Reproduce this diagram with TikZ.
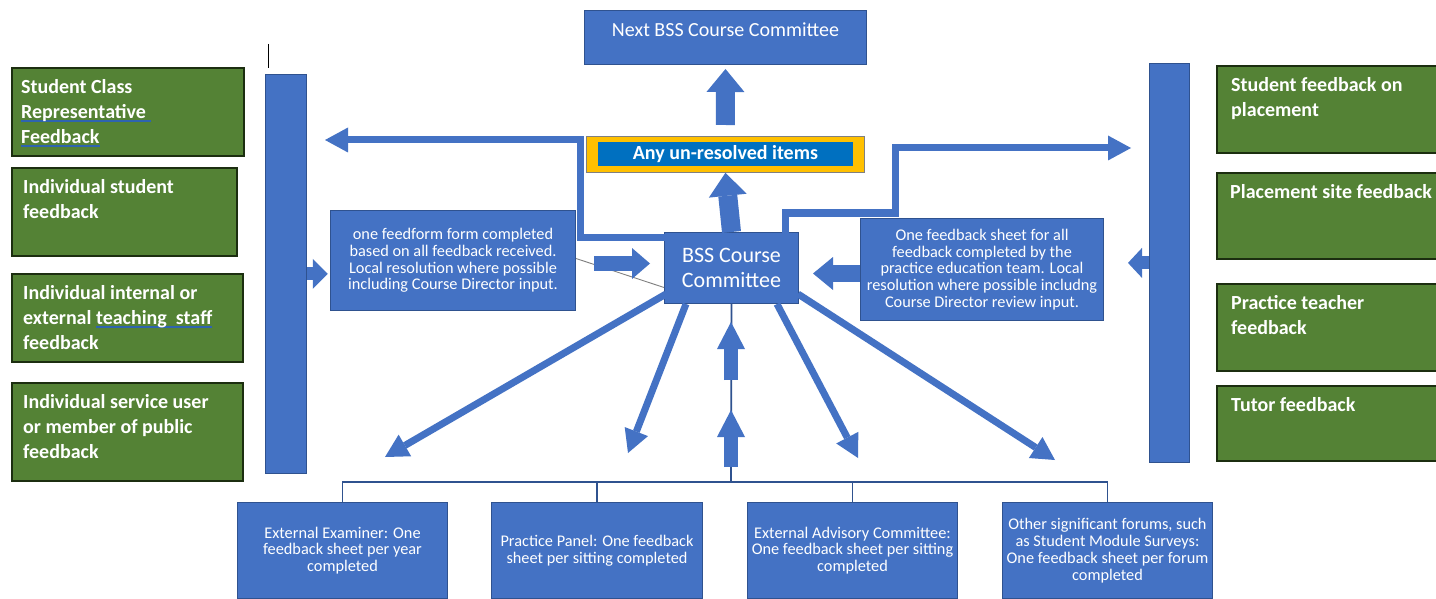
\documentclass[tikz,border=0pt]{standalone}
\usepackage{fontspec}
\setmainfont{Carlito}
\usetikzlibrary{positioning,arrows.meta}
\definecolor{boxBlue}{HTML}{4472C4}
\definecolor{boxBlueDark}{HTML}{2F528F}
\definecolor{boxGreen}{HTML}{548235}
\definecolor{boxGreenDark}{HTML}{1C2E10}
\definecolor{spellBlue}{HTML}{2E64B0}
\definecolor{unresolvedOrange}{HTML}{FFC000}
\definecolor{unresolvedBlue}{HTML}{0070C0}
\tikzstyle{plan} = [x = 1pt, y = -1pt]
\tikzstyle{greenBoxStyle} = [draw=boxGreenDark, fill=boxGreen, line width=1.6pt, anchor=north west, inner sep=0pt]
\tikzstyle{greenText} = [anchor=north west, inner sep=0pt, align=left, text=white, font=\fontsize{20}{25}\selectfont\bfseries]
\tikzstyle{blueBoxStyle} = [draw=boxBlueDark, fill=boxBlue, line width=1pt, text=white, align=center, inner sep=0pt, anchor=north west, font=\fontsize{16.3}{16.8}\selectfont]
\tikzstyle{barStyle} = [draw=boxBlueDark, fill=boxBlue, line width=.8pt, anchor=north west, inner sep=0pt]
\tikzstyle{lineArrow} = [draw=boxBlue, line width=7pt, -{Triangle[length=23pt, width=25pt, line width=0pt]}]
\tikzstyle{treeLine} = [draw=boxBlueDark, line width=1.6pt]
\newcommand{\blockArrow}[5]{\draw [boxBlue, line width=#3pt, -{Triangle[length=#4pt, width=#5pt, line width=0pt]}] #1 -- #2;}
\newsavebox{\spellBox}
\newlength{\spellWidth}
\newcommand{\spellMark}[1]{\sbox{\spellBox}{#1}\setlength{\spellWidth}{\wd\spellBox}\rlap{\textcolor{spellBlue}{\rule[-4pt]{\spellWidth}{1.8pt}}}\usebox{\spellBox}}
\newcommand{\feedbackBox}[7]{
  \node [greenBoxStyle, minimum width=#4pt, minimum height=#5pt] (#1) at (#2,#3) {};
  \node [greenText] (#1Text) at ([xshift=#7pt, yshift=-12pt]#1.north west) {#6};
}

\begin{document}
\begin{tikzpicture}[plan]
    \fill [white] (0,0) rectangle (1436,599);
    \useasboundingbox (0,0) rectangle (1436,599);
    % feedback sources on the left
    \feedbackBox{studentRep}{11}{67}{232}{88}{Student Class\\\spellMark{Representative\ }\\\spellMark{Feedback}}{10}
    \feedbackBox{indStudent}{11}{167}{225}{88}{Individual student\\feedback}{12}
    \feedbackBox{indStaff}{11}{273}{231}{88}{Individual internal or\\external \spellMark{teaching\ \ staff}\\feedback}{12}
    \feedbackBox{indPublic}{11}{382}{231}{98}{Individual service user\\or member of public\\feedback}{12}
    % feedback sources on the right
    \feedbackBox{placementStudent}{1216}{65}{232}{87}{Student feedback on\\placement}{15}
    \feedbackBox{placementSite}{1216}{172}{232}{86}{Placement site feedback}{14}
    \feedbackBox{practiceTeacher}{1216}{283}{232}{87}{Practice teacher\\feedback}{15}
    \feedbackBox{tutor}{1216}{385}{232}{75}{Tutor feedback}{15}
    \draw [black, line width=1pt] (268,44) -- (268,68);
    \node [barStyle, minimum width=41pt, minimum height=399pt] (leftBar) at (265,74) {};
    \node [barStyle, minimum width=40pt, minimum height=399pt] (rightBar) at (1149,63) {};
    % committees
    \node [blueBoxStyle, minimum width=282pt, minimum height=54pt] (nextBss) at (584,10) {};
    \node [text=white, inner sep=0pt, font=\fontsize{20}{22}\selectfont] (nextBssLabel) at ([yshift=-20pt]nextBss.north) {Next BSS Course Committee};
    \node [draw=gray, fill=unresolvedOrange, line width=.8pt, anchor=north west, minimum width=278pt, minimum height=36pt] (unresolvedFrame) at (586,136) {};
    \node [fill=unresolvedBlue, text=white, minimum width=255pt, minimum height=24pt, inner sep=0pt, font=\fontsize{20}{22}\selectfont\bfseries] (unresolved) at (unresolvedFrame.center) {Any un-resolved items};
    \node [blueBoxStyle, minimum width=245pt, minimum height=100pt] (leftSummary) at (330,210) {one feedform form completed\\based on all feedback received.\\Local resolution where possible\\including Course Director input.};
    \node [blueBoxStyle, minimum width=243pt, minimum height=102pt] (rightSummary) at (860,218) {One feedback sheet for all\\feedback completed by the\\practice education team. Local\\resolution where possible includng\\Course Director review input.};
    \node [blueBoxStyle, minimum width=134pt, minimum height=71pt, font=\fontsize{22}{25}\selectfont] (bss) at (664,232) {BSS Course\\Committee};
    \draw [gray, line width=.9pt] ([yshift=2pt]leftSummary.east) -- ([yshift=-19.5pt]bss.west);
    % bottom forums
    \node [blueBoxStyle, minimum width=210pt, minimum height=96pt] (examiner) at (237,502) {External Examiner: One\\feedback sheet per year\\completed};
    \node [blueBoxStyle, minimum width=211pt, minimum height=96pt] (practicePanel) at (491,502) {Practice Panel: One feedback\\sheet per sitting completed};
    \node [blueBoxStyle, minimum width=210pt, minimum height=96pt] (advisory) at (747,502) {External Advisory Committee:\\One feedback sheet per sitting\\completed};
    \node [blueBoxStyle, minimum width=210pt, minimum height=96pt] (forums) at (1002,502) {Other significant forums, such\\as Student Module Surveys:\\One feedback sheet per forum\\completed};
    \coordinate (treeHub) at (731,482);
    \draw [treeLine] (bss.south) -- (treeHub);
    \draw [treeLine] (examiner.north) |- (treeHub) -| (forums.north);
    \draw [treeLine] (practicePanel.north) -- (practicePanel.north |- treeHub);
    \draw [treeLine] (advisory.north) -- (advisory.north |- treeHub);
    % block arrows
    \blockArrow{([yshift=11pt]unresolvedFrame.north)}{([yshift=-4pt]nextBss.south)}{19}{23}{38}
    \blockArrow{(bss.north)}{(unresolvedFrame.south)}{19}{23}{38}
    \blockArrow{(leftBar.east)}{([xshift=21pt]leftBar.east)}{13}{15}{30}
    \blockArrow{(rightBar.west)}{([xshift=-21pt]rightBar.west)}{13}{14}{30}
    \blockArrow{([xshift=18pt, yshift=-3pt]leftSummary.east)}{([xshift=-14pt, yshift=4.5pt]bss.west)}{15}{18}{31}
    \blockArrow{([yshift=-4pt]rightSummary.west)}{([xshift=14pt, yshift=-5.5pt]bss.east)}{17}{20}{33}
    \blockArrow{([yshift=15pt]treeHub)}{([yshift=72pt]treeHub)}{14}{27}{28}
    \blockArrow{([yshift=102pt]treeHub)}{([yshift=160pt]treeHub)}{14}{27}{28}
    % line arrows
    \coordinate (leftTurn) at (580,140);
    \coordinate (leftTip) at (325,140);
    \coordinate (rightStep) at (895,213);
    \coordinate (rightTip) at (1131,148);
    \draw [lineArrow] ([xshift=39pt, yshift=-5pt]bss.north west) -| (leftTurn) -- (leftTip);
    \draw [lineArrow] ([xshift=121pt, yshift=-8pt]bss.north west) |- (rightStep) |- (rightTip);
    \coordinate (examinerTip) at (385,457);
    \coordinate (panelTip) at (628,453);
    \coordinate (advisoryTip) at (858,458);
    \coordinate (forumsTip) at (1055,460);
    \draw [lineArrow] ([xshift=2pt, yshift=10pt]bss.south west) -- (examinerTip);
    \draw [lineArrow] ([xshift=22pt]bss.south west) -- (panelTip);
    \draw [lineArrow] ([xshift=-22pt]bss.south east) -- (advisoryTip);
    \draw [lineArrow] ([xshift=-1pt, yshift=10pt]bss.south east) -- (forumsTip);
\end{tikzpicture}
\end{document}
